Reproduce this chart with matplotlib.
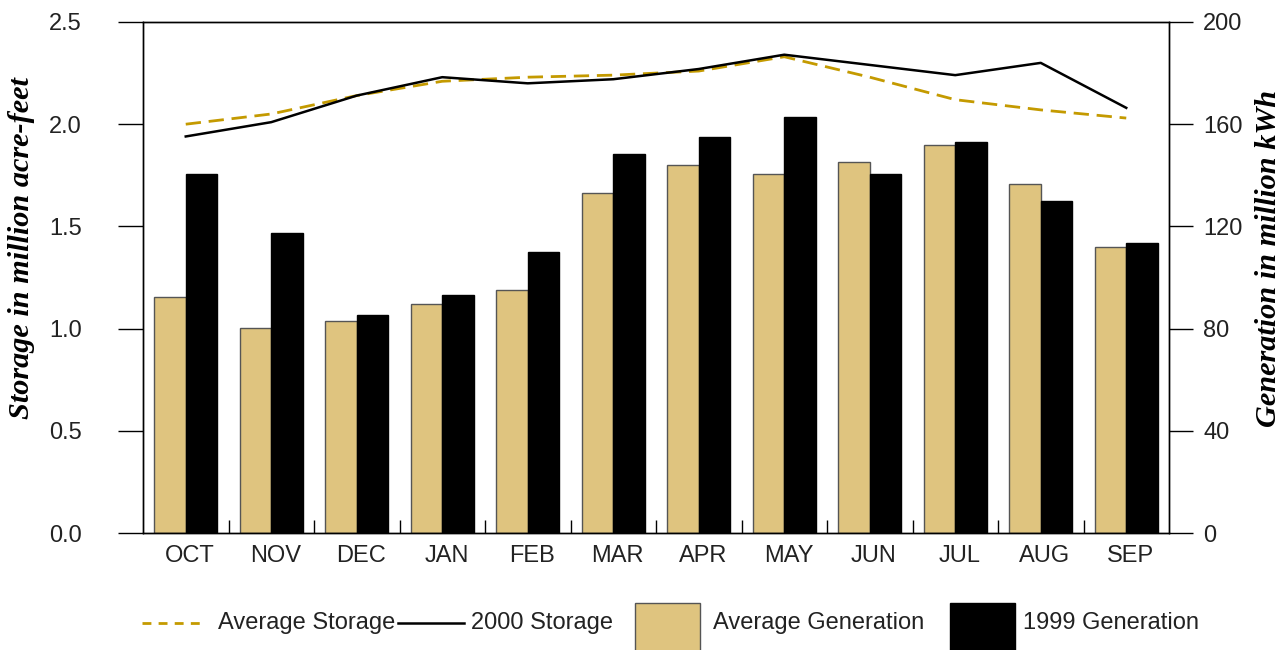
import numpy as np
import matplotlib
matplotlib.use("Agg")
import matplotlib.pyplot as plt
import matplotlib.transforms as mtransforms
from matplotlib.lines import Line2D
from matplotlib.patches import Rectangle

plt.rcParams['font.family'] = ['Liberation Sans', 'DejaVu Sans']

# monthly values, water year Oct - Sep
months = ['OCT', 'NOV', 'DEC', 'JAN', 'FEB', 'MAR',
          'APR', 'MAY', 'JUN', 'JUL', 'AUG', 'SEP']
avg_storage = [2.00, 2.05, 2.14, 2.21, 2.23, 2.24,
               2.26, 2.33, 2.23, 2.12, 2.07, 2.03]       # million acre-feet
storage_2000 = [1.94, 2.01, 2.14, 2.23, 2.20, 2.22,
                2.27, 2.34, 2.29, 2.24, 2.30, 2.08]      # million acre-feet
avg_gen = [92.4, 80.4, 83.1, 89.7, 95.1, 133.2,
           143.9, 140.4, 145.1, 151.9, 136.7, 111.8]     # million kWh
gen_1999 = [140.5, 117.4, 85.2, 93.0, 109.9, 148.5,
            155.0, 162.8, 140.6, 153.0, 129.9, 113.4]    # million kWh

TAN = '#dfc47f'
GOLD = '#c49a00'
TXT = '#222222'
FS = 17
W, H = 1283, 650

fig = plt.figure(figsize=(W / 100, H / 100), dpi=100)
ax = fig.add_axes([143 / W, (H - 533) / H, 1026 / W, 511 / H])
ax2 = ax.twinx()

x = np.arange(len(months))
bw = 0.37
ax2.bar(x - bw / 2, avg_gen, bw, color=TAN, edgecolor='#555555', linewidth=1)
ax2.bar(x + bw / 2, gen_1999, bw, color='black', edgecolor='black', linewidth=1)

ax.plot(x, avg_storage, color=GOLD, lw=2.0, dashes=(5.5, 2.8))
ax.plot(x, storage_2000, color='black', lw=1.8)
ax.set_zorder(ax2.get_zorder() + 1)
ax.patch.set_visible(False)

ax.set_xlim(-0.5, 11.5)
ax.set_ylim(0, 2.5)
ax2.set_ylim(0, 200)
ax.set_yticks(np.arange(0, 2.51, 0.5))
ax.set_yticklabels([f'{v:.1f}' for v in np.arange(0, 2.51, 0.5)])
ax2.set_yticks(np.arange(0, 201, 40))

ax.set_xticks(x)
ax.set_xticklabels(months)
ax.set_xticks(np.arange(0.5, 11, 1), minor=True)
ax.tick_params(axis='x', which='major', length=0, pad=9, labelsize=FS, labelcolor=TXT)
ax.tick_params(axis='x', which='minor', direction='in', length=9.5, width=1)
ax.tick_params(axis='y', length=18, width=1, pad=26, labelsize=FS, labelcolor=TXT)
ax2.tick_params(axis='y', length=17.5, width=1, pad=7, labelsize=FS, labelcolor=TXT)
for a in (ax, ax2):
    for s in a.spines.values():
        s.set_linewidth(1)
for lab in ax.get_yticklabels():
    lab.set_horizontalalignment('right')
# month names sit a little right of the group centres
shift = mtransforms.ScaledTranslation(3 / 72, 0, fig.dpi_scale_trans)
for lab in ax.get_xticklabels():
    lab.set_transform(lab.get_transform() + shift)

serif = dict(family=['Liberation Serif', 'DejaVu Serif'], weight='bold',
             style='italic', fontsize=21.8, color='black')
fig.text(22 / W, 1 - 248 / H, 'Storage in million acre-feet', rotation=90,
         ha='center', va='center', **serif)
fig.text(1269 / W, 1 - 258 / H, 'Generation in million kWh', rotation=90,
         ha='center', va='center', **serif)


# legend row along the bottom, laid out in pixels
def fx(px):
    return px / W


def fy(py):
    return 1 - py / H


ly = 623
fig.add_artist(Line2D([fx(142), fx(203)], [fy(ly), fy(ly)], color=GOLD, lw=2.0,
                      dashes=(3.2, 2.6)))
fig.text(fx(218), fy(ly), 'Average Storage', va='center', fontsize=FS, color=TXT)
fig.add_artist(Line2D([fx(398), fx(464)], [fy(ly), fy(ly)], color='black', lw=1.8))
fig.text(fx(471), fy(ly), '2000 Storage', va='center', fontsize=FS, color=TXT)
fig.add_artist(Rectangle((fx(635), fy(668)), fx(65), 65 / H, facecolor=TAN,
                         edgecolor='#555555', lw=1))
fig.text(fx(713), fy(ly), 'Average Generation', va='center', fontsize=FS, color=TXT)
fig.add_artist(Rectangle((fx(950), fy(668)), fx(65), 65 / H, facecolor='black',
                         edgecolor='black', lw=1))
fig.text(fx(1023), fy(ly), '1999 Generation', va='center', fontsize=FS, color=TXT)

fig.savefig('out.png', dpi=100)
